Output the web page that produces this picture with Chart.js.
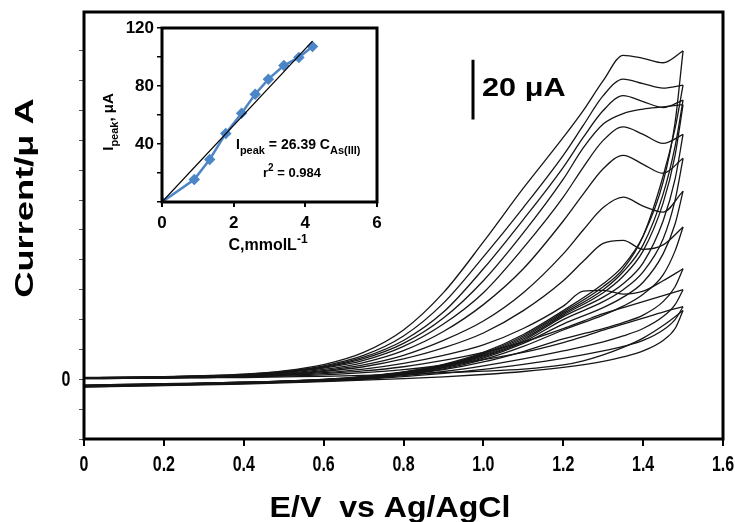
<!DOCTYPE html>
<html>
<head>
<meta charset="utf-8">
<script src="https://cdn.jsdelivr.net/npm/chart.js@4.4.0/dist/chart.umd.min.js"></script>
<style>
  body { margin: 0; background: #fff; }
  #wrap { position: relative; width: 735px; height: 522px; }
  #chartCV { position: absolute; left: 0; top: 0; }
  #chartInset { position: absolute; left: 95px; top: 10px; }
</style>
</head>
<body>
<div id="wrap">
  <canvas id="chartCV" width="735" height="522"></canvas>
  <canvas id="chartInset" width="290" height="250"></canvas>
</div>
<script>
// potentials (V vs Ag/AgCl) for the forward and the reverse scan
var fwdPotential = [0, 0.1, 0.2, 0.3, 0.4, 0.5, 0.6, 0.7, 0.8, 0.9, 1.0, 1.1, 1.2, 1.25, 1.3, 1.35, 1.4, 1.45, 1.5]
var revPotential = [1.48, 1.45, 1.4, 1.35, 1.3, 1.2, 1.1, 1.0, 0.9, 0.8, 0.7, 0.6, 0.4, 0.2, 0]

// current (uA), one row per voltammogram
var fwdCurrent = [
  [0.6, 0.7, 0.9, 1.2, 1.7, 2.8, 4.9, 9, 16.5, 29, 46, 64, 81, 90, 100, 108.5, 107.5, 106, 110],
  [0.5, 0.6, 0.8, 1.1, 1.6, 2.6, 4.5, 8, 14.5, 25.5, 41, 57.5, 75, 85, 95, 100.5, 99, 97.5, 98.5],
  [0.5, 0.6, 0.8, 1.1, 1.5, 2.5, 4.2, 7.4, 13, 22.5, 37, 53.5, 71, 81, 90, 95, 93, 91, 93.5],
  [0.5, 0.6, 0.8, 1.0, 1.5, 2.4, 4.0, 6.9, 12, 20.5, 33, 49, 67, 77.5, 85.5, 89, 90.5, 91.2, 92],
  [0.4, 0.5, 0.7, 1.0, 1.4, 2.2, 3.7, 6.3, 11, 18.5, 29, 44, 61, 71, 80, 84.5, 82, 79, 82],
  [0.4, 0.5, 0.7, 0.9, 1.3, 2.0, 3.3, 5.6, 9.6, 16, 25, 37, 53, 62, 70.5, 75, 72, 69, 74],
  [0.4, 0.5, 0.6, 0.9, 1.2, 1.8, 2.9, 4.8, 8, 13, 19.5, 29, 42, 50, 57.5, 61, 58, 56, 63],
  [0.3, 0.4, 0.6, 0.8, 1.1, 1.6, 2.6, 4.2, 6.8, 10.5, 15.5, 23, 33, 39.5, 45.5, 46.5, 43.5, 45, 51],
  [0.3, 0.4, 0.5, 0.7, 1.0, 1.4, 2.2, 3.4, 5.3, 8, 11.5, 17, 24.5, 29.5, 29.8, 28.5, 29.5, 33, 37],
  [0.3, 0.4, 0.5, 0.7, 0.9, 1.3, 1.9, 2.8, 4.2, 6.3, 9.0, 12.5, 17, 19.5, 22, 24, 26, 28, 30],
  [0.2, 0.3, 0.4, 0.6, 0.8, 1.1, 1.5, 2.2, 3.2, 4.7, 6.6, 9, 12.3, 14.3, 16.5, 18.5, 20.5, 22.5, 24.3],
  [0.2, 0.3, 0.4, 0.5, 0.6, 0.8, 1.0, 1.3, 1.7, 2.2, 2.7, 3.4, 4.8, 6.2, 8.2, 10.7, 13.8, 18, 23]
]
var revCurrent = [
  [86, 66, 48, 38, 32, 23, 15, 9, 5, 2.5, 1, 0, -1, -1.5, -2],
  [84, 68, 48, 37, 31, 22.5, 14.5, 8.7, 4.8, 2.4, 0.9, 0, -1, -1.5, -2],
  [78, 62, 45, 36, 30, 22, 14, 8.4, 4.6, 2.3, 0.8, -0.1, -1, -1.6, -2.1],
  [75, 59, 43, 34.5, 29, 21.5, 13.5, 8.1, 4.4, 2.2, 0.7, -0.2, -1.1, -1.6, -2.1],
  [67, 53, 39, 32, 27.5, 21, 13, 7.8, 4.2, 2.1, 0.6, -0.2, -1.1, -1.7, -2.2],
  [60, 47, 36, 30, 26, 20, 12.5, 7.5, 4, 2, 0.5, -0.3, -1.2, -1.7, -2.2],
  [52, 42, 32.5, 27.5, 24, 18.5, 12, 7.1, 3.8, 1.9, 0.4, -0.3, -1.2, -1.8, -2.3],
  [43, 35, 28.5, 24.5, 21.5, 16.5, 11, 6.6, 3.5, 1.7, 0.3, -0.4, -1.3, -1.8, -2.3],
  [31, 26, 21.5, 19, 17, 13.5, 9.3, 5.8, 3.2, 1.5, 0.2, -0.5, -1.3, -1.9, -2.4],
  [25, 21, 17, 14.5, 12.5, 9.5, 6.8, 4.5, 2.6, 1.2, 0.1, -0.5, -1.4, -1.9, -2.4],
  [20, 16.5, 13, 11, 9.5, 7.0, 5.0, 3.3, 2.0, 0.9, 0, -0.6, -1.4, -2.0, -2.5],
  [17, 13, 9.5, 7.5, 6.0, 4.0, 2.6, 1.6, 0.8, 0.2, -0.3, -0.8, -1.6, -2.1, -2.6]
]
var xTickLabels = ['0', '0.2', '0.4', '0.6', '0.8', '1.0', '1.2', '1.4', '1.6']
var yTickLabel = '0'

// inset: peak current vs concentration
var insetConc = [0, 0.9, 1.33, 1.78, 2.22, 2.6, 2.97, 3.4, 3.82, 4.2]
var insetPeak = [0, 15.5, 29.3, 47.3, 61.2, 74.3, 84.7, 94.1, 99.7, 107.3]
var fitConc = [0, 4.2]
var fitPeak = [0, 111]

var boldFont = '"Liberation Sans", Arial, sans-serif'

// text with sub/superscripts, parts = [[text, 0 normal | 1 sub | 2 sup], ...]
function drawRich(ctx, parts, x, y, size, align) {
  var font = function (k) { return 'bold ' + (k ? Math.round(size * 0.75) : size) + 'px ' + boldFont }
  var total = 0
  parts.forEach(function (p) { ctx.font = font(p[1]); total += ctx.measureText(p[0]).width })
  var cx = align == 'center' ? x - total / 2 : x
  ctx.textAlign = 'left'
  ctx.textBaseline = 'alphabetic'
  parts.forEach(function (p) {
    ctx.font = font(p[1])
    var dy = p[1] == 1 ? size * 0.35 : (p[1] == 2 ? -size * 0.45 : 0)
    ctx.fillText(p[0], cx, y + dy)
    cx += ctx.measureText(p[0]).width
  })
}

// tall, narrow bold label like the original figure
function drawTall(ctx, text, x, y, size, sy) {
  ctx.save()
  ctx.translate(x, y)
  ctx.scale(1, sy)
  ctx.font = 'bold ' + size + 'px ' + boldFont
  ctx.textAlign = 'center'
  ctx.textBaseline = 'middle'
  ctx.fillText(text, 0, 0)
  ctx.restore()
}

function noPad(s) {
  s.paddingTop = 0
  s.paddingBottom = 0
  s.paddingLeft = 0
  s.paddingRight = 0
}

// forward and reverse branch of every scan, the reverse starts at the vertex
var cvSets = []
fwdCurrent.forEach(function (row, i) {
  var fwd = fwdPotential.map(function (e, j) { return { x: e, y: row[j] } })
  var last = fwd[fwd.length - 1]
  var rev = [{ x: last.x, y: last.y }].concat(revPotential.map(function (e, k) { return { x: e, y: revCurrent[i][k] } }))
  ;[fwd, rev].forEach(function (pts) {
    cvSets.push({
      data: pts,
      showLine: true,
      borderColor: '#161616',
      borderWidth: 1.3,
      pointRadius: 0,
      cubicInterpolationMode: 'monotone'
    })
  })
})

//Moldura, rótulos, barra de escala e títulos do gráfico principal//
var mainDecor = {
  id: 'mainDecor',
  afterDraw: function (chart) {
    var ctx = chart.ctx
    var a = chart.chartArea
    var xs = chart.scales.x
    var ys = chart.scales.y
    ctx.save()
    ctx.strokeStyle = '#000'
    ctx.lineWidth = 3
    ctx.strokeRect(a.left, a.top, a.right - a.left, a.bottom - a.top)
    ctx.fillStyle = '#000'

    xs.ticks.forEach(function (t, i) {
      drawTall(ctx, xTickLabels[i], xs.getPixelForValue(t.value), 465, 16, 1.35)
    })
    drawTall(ctx, yTickLabel, 66, ys.getPixelForValue(0) + 1, 16, 1.35)

    // 20 uA scale bar
    var barTop = ys.getPixelForValue(107)
    var barBottom = ys.getPixelForValue(87)
    ctx.beginPath()
    ctx.moveTo(473, barTop)
    ctx.lineTo(473, barBottom)
    ctx.stroke()

    ctx.save()
    ctx.translate(482, 96)
    ctx.scale(1.18, 1)
    ctx.font = 'bold 26px ' + boldFont
    ctx.textAlign = 'left'
    ctx.textBaseline = 'alphabetic'
    ctx.fillText('20 μA', 0, 0)
    ctx.restore()

    ctx.save()
    ctx.translate(390, 517)
    ctx.scale(1.07, 1)
    ctx.font = 'bold 30px ' + boldFont
    ctx.textAlign = 'center'
    ctx.textBaseline = 'alphabetic'
    ctx.fillText('E/V  vs Ag/AgCl', 0, 0)
    ctx.restore()

    ctx.translate(26, 198)
    ctx.rotate(-Math.PI / 2)
    ctx.scale(1.45, 1)
    ctx.font = 'bold 25px ' + boldFont
    ctx.textAlign = 'center'
    ctx.textBaseline = 'middle'
    ctx.fillText('Current/μ A', 0, 0)
    ctx.restore()
  }
}

var chartCV = new Chart(document.getElementById('chartCV'), {
  type: 'scatter',
  data: { datasets: cvSets },
  options: {
    responsive: false,
    animation: false,
    devicePixelRatio: 1,
    layout: { padding: { left: 0, top: 12, right: 12, bottom: 0 } },
    plugins: { legend: { display: false }, tooltip: { enabled: false } },
    scales: {
      x: {
        type: 'linear',
        min: 0,
        max: 1.6,
        afterFit: function (s) { s.height = 83; noPad(s) },
        grid: { drawOnChartArea: false, drawTicks: true, tickLength: 7, color: '#000', lineWidth: 2 },
        border: { display: false },
        ticks: {
          stepSize: 0.2,
          autoSkip: false,
          maxRotation: 0,
          callback: function () { return '' }
        }
      },
      y: {
        type: 'linear',
        min: -20,
        max: 123,
        afterFit: function (s) { s.width = 84; noPad(s) },
        afterBuildTicks: function (s) {
          s.ticks = s.ticks.filter(function (t) { return Math.abs(t.value % 5) < 1e-6 })
        },
        grid: { drawOnChartArea: false, drawTicks: true, tickLength: 5, color: '#555', lineWidth: 1 },
        border: { display: false },
        ticks: {
          stepSize: 5,
          callback: function () { return '' }
        }
      }
    }
  },
  plugins: [mainDecor]
})

//Gráfico menor: Ipeak x concentração//
var insetDecor = {
  id: 'insetDecor',
  afterDraw: function (chart) {
    var ctx = chart.ctx
    var a = chart.chartArea
    ctx.save()
    ctx.strokeStyle = '#000'
    ctx.lineWidth = 3
    ctx.strokeRect(a.left, a.top, a.right - a.left, a.bottom - a.top)
    ctx.fillStyle = '#000'

    drawRich(ctx, [['I', 0], ['peak', 1], [' = 26.39 C', 0], ['As(III)', 1]], 141, 139, 14, 'left')
    drawRich(ctx, [['r', 0], ['2', 2], [' = 0.984', 0]], 168, 167, 13, 'left')
    drawRich(ctx, [['C,mmolL', 0], ['-1', 2]], 173, 240, 16, 'center')

    ctx.translate(18, 112)
    ctx.rotate(-Math.PI / 2)
    drawRich(ctx, [['I', 0], ['peak', 1], [', μA', 0]], 0, 0, 15, 'center')
    ctx.restore()
  }
}

var chartInset = new Chart(document.getElementById('chartInset'), {
  type: 'scatter',
  data: {
    datasets: [
      {
        data: fitConc.map(function (c, i) { return { x: c, y: fitPeak[i] } }),
        showLine: true,
        borderColor: '#000',
        borderWidth: 1.2,
        pointRadius: 0
      },
      {
        data: insetConc.map(function (c, i) { return { x: c, y: insetPeak[i] } }),
        showLine: true,
        borderColor: '#4d86c8',
        backgroundColor: '#4d86c8',
        borderWidth: 2.5,
        pointStyle: 'rectRot',
        pointRadius: 4
      }
    ]
  },
  options: {
    responsive: false,
    animation: false,
    devicePixelRatio: 1,
    layout: { padding: { left: 0, top: 18, right: 8, bottom: 0 } },
    plugins: { legend: { display: false }, tooltip: { enabled: false } },
    scales: {
      x: {
        type: 'linear',
        min: 0,
        max: 6,
        afterFit: function (s) { s.height = 58; noPad(s) },
        grid: { drawOnChartArea: false, tickLength: 5, color: '#000', lineWidth: 2 },
        border: { display: false },
        ticks: {
          stepSize: 2,
          padding: 6,
          color: '#000',
          font: { family: boldFont, size: 17, weight: 'bold' }
        }
      },
      y: {
        type: 'linear',
        min: 0,
        max: 120,
        afterFit: function (s) { s.width = 67; noPad(s) },
        grid: { drawOnChartArea: false, tickLength: 5, color: '#000', lineWidth: 1.5 },
        border: { display: false },
        ticks: {
          stepSize: 20,
          padding: 3,
          color: '#000',
          font: { family: boldFont, size: 17, weight: 'bold' },
          callback: function (v) { return (v % 40 == 0 && v != 0) ? String(v) : '' }
        }
      }
    }
  },
  plugins: [insetDecor]
})
</script>
</body>
</html>
